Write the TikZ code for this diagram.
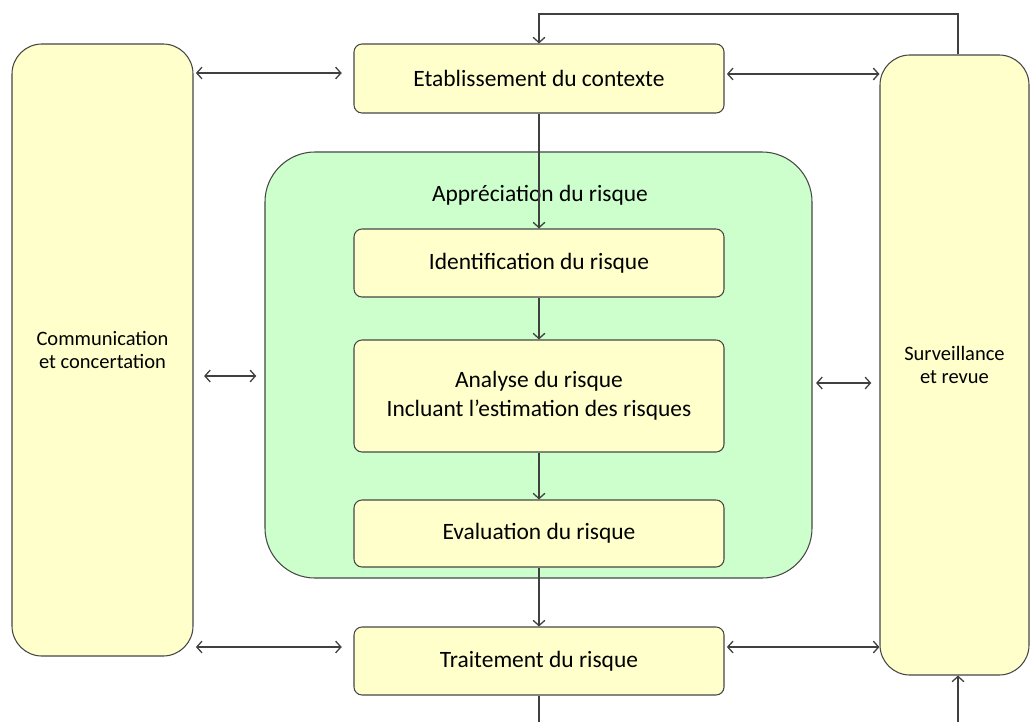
\documentclass[tikz,border=0pt]{standalone}
\usepackage{fontspec}
\setmainfont{Carlito}
\usetikzlibrary{arrows.meta}
\definecolor{boxyellow}{RGB}{255,255,204}
\definecolor{boxgreen}{RGB}{204,255,204}
\definecolor{edgegray}{RGB}{70,70,70}

\begin{document}
\begin{tikzpicture}[x=0.03cm,y=-0.03cm,
        stepbox/.style={draw=edgegray,line width=0.9pt,fill=boxyellow,rounded corners=0.24cm,minimum width=11.1cm,align=center,font=\fontsize{20}{25}\selectfont},
        sidebox/.style={draw=edgegray,line width=0.9pt,fill=boxyellow,rounded corners=0.9cm,align=center,font=\fontsize{17.5}{22}\selectfont},
        link/.style={draw=black!75,line width=1.1pt,-{Straight Barb[length=4.5pt,width=10pt]}},
        twoway/.style={link,{Straight Barb[length=4.5pt,width=10pt]}-{Straight Barb[length=4.5pt,width=10pt]}}]
    \useasboundingbox (0,0) rectangle (1031,722);
    % side boxes
    \node[sidebox,minimum width=5.43cm,minimum height=18.36cm] (comm) at (102.5,350) {Communication\\[-2pt]et concertation};
    \node[sidebox,minimum width=4.47cm,minimum height=18.6cm] (surv) at (954.5,365) {Surveillance\\[-2pt]et revue};
    % risk assessment block
    \node[draw=edgegray,line width=0.9pt,fill=boxgreen,rounded corners=1.5cm,minimum width=16.41cm,minimum height=12.78cm] (appr) at (538.5,365) {};
    \node[font=\fontsize{20}{25}\selectfont] (apprtitle) at (540,195) {Appréciation du risque};
    % steps
    \node[stepbox,minimum height=2.07cm] (ctx) at (539,78.5) {Etablissement du contexte};
    \node[stepbox,minimum height=2.04cm] (ident) at (539,263) {Identification du risque};
    \node[stepbox,minimum height=3.36cm] (anal) at (539,396) {Analyse du risque\\Incluant l’estimation des risques};
    \node[stepbox,minimum height=2.01cm] (eval) at (539,533.5) {Evaluation du risque};
    \node[stepbox,minimum height=2.04cm] (trait) at (539,661) {Traitement du risque};
    \coordinate (out) at (539,722);
    \coordinate (in) at (958,722);
    \coordinate (loop) at (958,14);
    % flow
    \draw[link] (ctx.south) -- (ident.north);
    \draw[link] (ident.south) -- (anal.north);
    \draw[link] (anal.south) -- (eval.north);
    \draw[link] (eval.south) -- (trait.north);
    \draw[link,-] (trait.south) -- (out);
    \draw[link] (in) -- (surv.south -| in);
    \draw[link] (surv.north -| loop) -- (loop) -| (ctx.north);
    % exchanges
    \draw[twoway,shorten <=2pt,shorten >=10pt] (comm.east |- 0,73) -- (ctx.west |- 0,73);
    \draw[twoway,shorten <=2pt] (ctx.east |- 0,74) -- (surv.west |- 0,74);
    \draw[twoway,shorten <=9pt,shorten >=7pt] (comm.east |- 0,376) -- (appr.west |- 0,376);
    \draw[twoway,shorten <=3pt,shorten >=7pt] (appr.east |- 0,383) -- (surv.west |- 0,383);
    \draw[twoway,shorten <=2pt,shorten >=10pt] (comm.east |- 0,647) -- (trait.west |- 0,647);
    \draw[twoway,shorten <=2pt] (trait.east |- 0,647) -- (surv.west |- 0,647);
\end{tikzpicture}
\end{document}
